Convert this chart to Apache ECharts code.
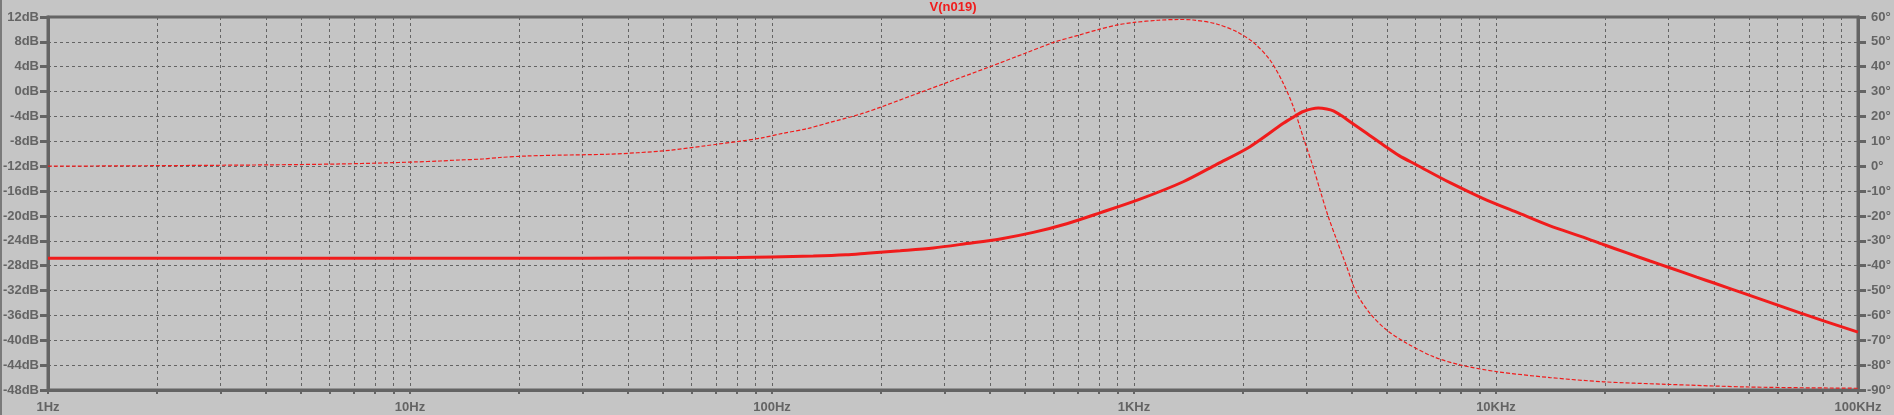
<!DOCTYPE html>
<html><head><meta charset="utf-8">
<script src="https://cdn.jsdelivr.net/npm/echarts@6/dist/echarts.min.js"></script>
<style>
html,body{margin:0;padding:0;background:#c5c5c5;overflow:hidden;}
#c{position:absolute;left:0;top:0;width:1894px;height:415px;}
#edge{position:absolute;left:0;top:0;width:2px;height:415px;background:#7a7a7a;}
</style>
</head><body><div id="c"></div><div id="edge"></div>
<script>
// ---- data ----
const magFreq = [1, 10, 30, 60, 80, 100, 130, 160, 183, 226, 279, 345, 427, 527, 652, 806, 1039, 1368, 1692, 2091, 2585, 2755, 2936, 3229, 3406, 3553, 3748, 3952, 4393, 4884, 5400, 6039, 7464, 9225, 11400, 14100, 17400, 19790, 23000, 26640, 29920, 35850, 39840, 49770, 69150, 100000];
const magDb = [-26.8, -26.8, -26.8, -26.75, -26.7, -26.6, -26.45, -26.25, -26.0, -25.6, -25.15, -24.45, -23.7, -22.65, -21.25, -19.5, -17.3, -14.5, -11.7, -8.86, -5.1, -4.1, -3.2, -2.65, -2.8, -3.1, -3.9, -4.84, -6.7, -8.59, -10.3, -11.8, -14.65, -17.2, -19.4, -21.6, -23.4, -24.6, -25.95, -27.25, -28.25, -29.85, -30.75, -32.7, -35.6, -38.7];

const phaseFreq = [1, 1.96, 4.18, 6.42, 8.42, 10.3, 12.1, 13.7, 15.9, 17.7, 21.0, 25, 35, 42.4, 52.3, 65.3, 82, 93.8, 107, 125, 144.6, 175, 200, 256, 300, 400, 500, 600, 700, 800, 900, 1000, 1166, 1330, 1458, 1692, 1921, 2136, 2375, 2585, 2755, 2936, 3128, 3265, 3441, 3631, 3868, 4122, 4487, 4989, 5666, 6713, 7955, 10040, 14100, 19790, 29440, 50000, 100000];
const phaseDeg = [0, 0.2, 0.55, 0.9, 1.3, 1.7, 2.1, 2.5, 2.9, 3.5, 4.1, 4.4, 4.8, 5.4, 6.4, 8.2, 10.1, 11.4, 13.2, 15.1, 17.6, 20.9, 23.8, 29.6, 33.3, 40.0, 45.4, 49.8, 52.6, 55.0, 56.8, 57.8, 58.7, 59.0, 58.8, 57.2, 54.1, 49.8, 42.7, 33.3, 23.9, 11.5, -0.5, -9.6, -20.3, -29.7, -40.4, -51.1, -59.2, -65.9, -71.2, -76.6, -79.9, -82.6, -85.0, -86.7, -87.7, -88.8, -89.3];

const xGridValues = [1,2,3,4,5,6,7,8,9,10,20,30,40,50,60,70,80,90,100,200,300,400,500,600,700,800,900,1000,2000,3000,4000,5000,6000,7000,8000,9000,10000,20000,30000,40000,50000,60000,70000,80000,90000,100000];
const xLabelValues = [1, 10, 100, 1000, 10000, 100000];
const xLabelText = ['1Hz', '10Hz', '100Hz', '1KHz', '10KHz', '100KHz'];
const title = 'V(n019)';

// ---- styling ----
const RED = '#f01c1c';
const AX = '#646464';
const FONT = {fontFamily: 'Liberation Sans, Arial, sans-serif', fontWeight: 'bold', fontSize: 13, color: AX};

const chart = echarts.init(document.getElementById('c'), null, {renderer: 'canvas'});
chart.setOption({
  animation: false,
  backgroundColor: '#c5c5c5',
  title: {
    text: title, left: 953, top: 1, padding: 0, textAlign: 'center',
    textStyle: Object.assign({}, FONT, {color: RED})
  },
  grid: {
    left: 48, right: 36, top: 17, bottom: 25,
    containLabel: false, outerBoundsMode: 'none',
    show: true, borderColor: AX, borderWidth: 3, backgroundColor: 'transparent'
  },
  xAxis: {
    type: 'log', logBase: 10, min: 1, max: 100000,
    axisLine: {show: true, onZero: false, lineStyle: {color: AX, width: 3}},
    axisTick: {show: true, customValues: xGridValues, length: 4, inside: false, lineStyle: {color: AX, width: 2}},
    axisLabel: Object.assign({}, FONT, {
      customValues: xLabelValues, margin: 11, showMinLabel: true, showMaxLabel: true,
      formatter: function (v) { const i = xLabelValues.findIndex(x => Math.abs(x - v) < 1e-6 * x); return i >= 0 ? xLabelText[i] : ''; }
    }),
    splitLine: {show: true, lineStyle: {color: AX, width: 1, type: [3, 3]}},
    minorTick: {show: false}, minorSplitLine: {show: false}
  },
  yAxis: [{
    type: 'value', min: -48, max: 12, interval: 4, position: 'left',
    axisLine: {show: true, onZero: false, lineStyle: {color: AX, width: 3}},
    axisTick: {show: true, length: 8, lineStyle: {color: AX, width: 3}},
    axisLabel: Object.assign({}, FONT, {margin: 9, formatter: '{value}dB'}),
    splitLine: {show: true, lineStyle: {color: AX, width: 1, type: [3, 3]}}
  }, {
    type: 'value', min: -90, max: 60, interval: 10, position: 'right',
    axisLine: {show: true, onZero: false, lineStyle: {color: AX, width: 3}},
    axisTick: {show: true, length: 8, lineStyle: {color: AX, width: 3}},
    axisLabel: Object.assign({}, FONT, {
      margin: 9,
      formatter: function (v) { return v < 0 ? '{n|' + v + '°}' : '{p|' + v + '°}'; },
      rich: {
        n: Object.assign({}, FONT),
        p: Object.assign({}, FONT, {padding: [0, 0, 0, 4]})
      }
    }),
    splitLine: {show: false}
  }],
  series: [{
    type: 'line', name: 'mag', xAxisIndex: 0, yAxisIndex: 0,
    data: magFreq.map((f, i) => [f, magDb[i]]),
    symbol: 'none', smooth: 0.3, z: 4,
    lineStyle: {color: RED, width: 3}
  }, {
    type: 'line', name: 'phase', xAxisIndex: 0, yAxisIndex: 1,
    data: phaseFreq.map((f, i) => [f, phaseDeg[i]]),
    symbol: 'none', smooth: 0.3, z: 3,
    lineStyle: {color: RED, width: 1.2, type: [4, 2]}
  }]
});
</script>
</body></html>
